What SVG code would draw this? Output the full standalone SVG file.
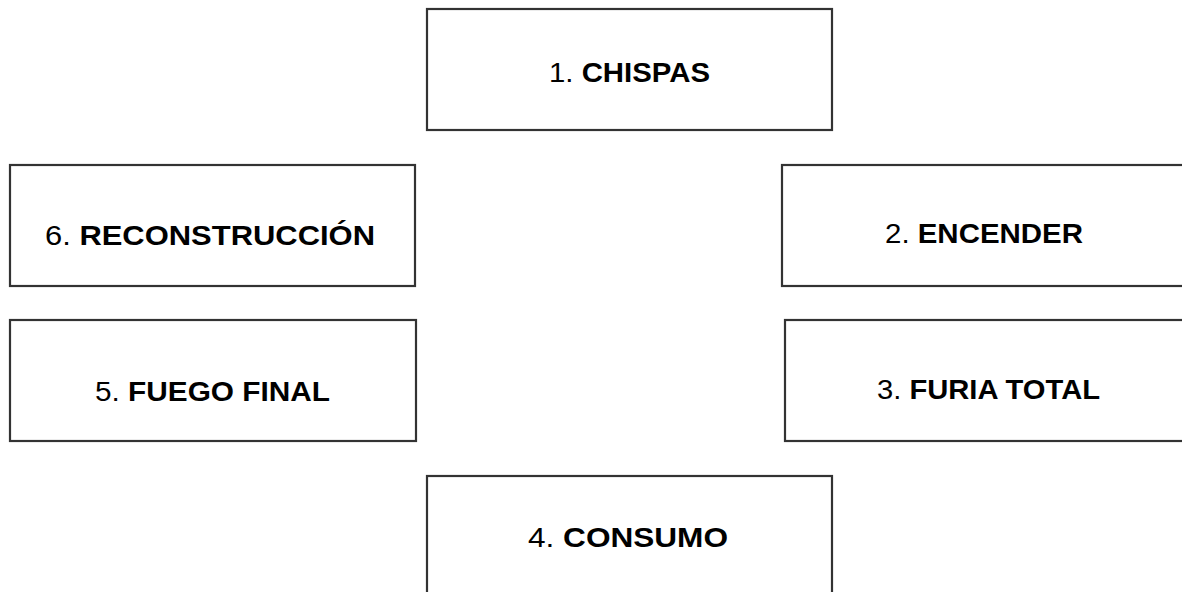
<svg xmlns="http://www.w3.org/2000/svg" width="1182" height="592" viewBox="0 0 1182 592">
<style>
.box{fill:#fff;stroke:#333;stroke-width:2.2}
.t{font-family:"Liberation Sans",Arial,sans-serif;font-size:28px;fill:#000;text-anchor:middle}
.b{font-weight:bold}
</style>
<rect width="1182" height="592" fill="#fff"/>
<g id="connectors"></g>
<g id="n1"><rect class="box" x="427" y="9" width="405" height="121"/><text class="t" x="629.5" y="82" textLength="161" lengthAdjust="spacingAndGlyphs">1. <tspan class="b">CHISPAS</tspan></text></g>
<g id="n2"><rect class="box" x="782" y="165" width="410" height="121"/><text class="t" x="984" y="243" textLength="198" lengthAdjust="spacingAndGlyphs">2. <tspan class="b">ENCENDER</tspan></text></g>
<g id="n3"><rect class="box" x="785" y="320" width="410" height="121"/><text class="t" x="988.5" y="399" textLength="223" lengthAdjust="spacingAndGlyphs">3. <tspan class="b">FURIA TOTAL</tspan></text></g>
<g id="n4"><rect class="box" x="427" y="476" width="405" height="130"/><text class="t" x="628" y="547" textLength="200" lengthAdjust="spacingAndGlyphs">4. <tspan class="b">CONSUMO</tspan></text></g>
<g id="n5"><rect class="box" x="10" y="320" width="406" height="121"/><text class="t" x="212.5" y="401" textLength="235" lengthAdjust="spacingAndGlyphs">5. <tspan class="b">FUEGO FINAL</tspan></text></g>
<g id="n6"><rect class="box" x="10" y="165" width="405" height="121"/><text class="t" x="210" y="245" textLength="330" lengthAdjust="spacingAndGlyphs">6. <tspan class="b">RECONSTRUCCIÓN</tspan></text></g>
</svg>
